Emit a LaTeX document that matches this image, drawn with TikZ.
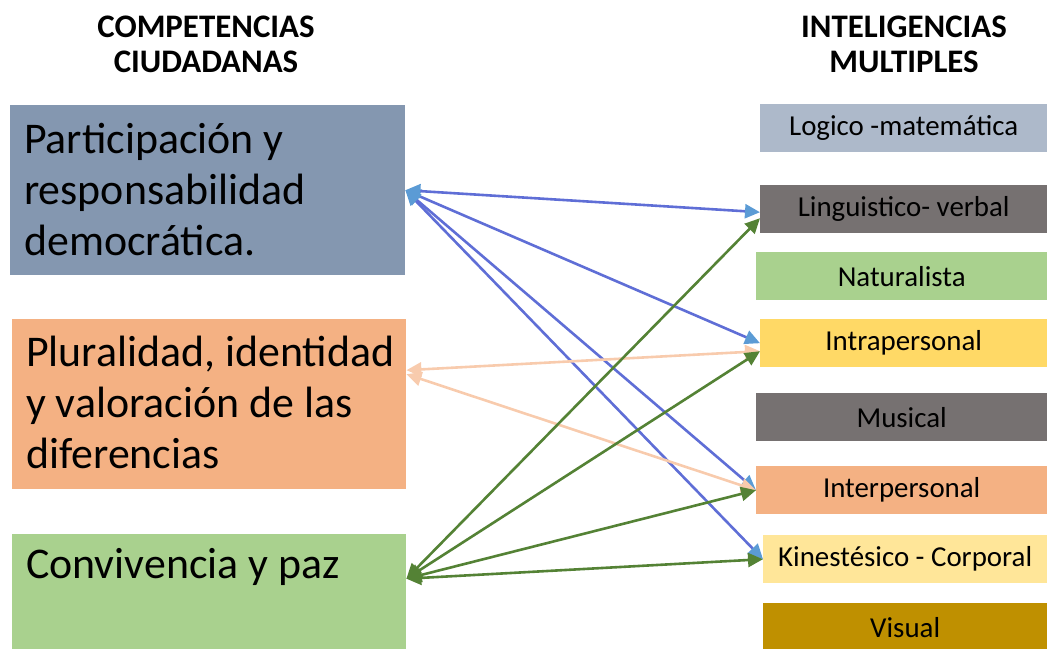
\documentclass[tikz,border=0pt]{standalone}
\usepackage{fontspec}
\setmainfont{Carlito}
\usetikzlibrary{arrows.meta}
\def\W{1049}
\def\H{649}
\def\U{bp}
\definecolor{partcolor}{HTML}{8497B0}
\definecolor{plurcolor}{HTML}{F4B183}
\definecolor{convcolor}{HTML}{A9D18E}
\definecolor{logicolor}{HTML}{ADB9CA}
\definecolor{graycolor}{HTML}{767171}
\definecolor{intracolor}{HTML}{FFD966}
\definecolor{kinecolor}{HTML}{FFE699}
\definecolor{visucolor}{HTML}{BF9000}
\definecolor{linkblue}{HTML}{5F6ED6}
\definecolor{tipblue}{HTML}{5B9BD5}
\definecolor{linkpeach}{HTML}{F8CBAD}
\definecolor{linkgreen}{HTML}{548235}
\tikzset{
  header/.style={align=center, font=\fontsize{33}{35}\selectfont\bfseries},
  leftbox/.style={anchor=north west, inner sep=0pt, minimum width=395\U, minimum height=170\U},
  lefttext/.style={anchor=base west, align=left, inner sep=0pt, font=\fontsize{44}{51}\selectfont},
  rightbox/.style={anchor=north west, inner sep=0pt, minimum height=48\U, font=\fontsize{29}{32}\selectfont},
  bluelink/.style={line width=2.6\U, linkblue,
    {Triangle[length=15\U,width=14\U,color=tipblue]}-{Triangle[length=15\U,width=14\U,color=tipblue]}},
  peachlink/.style={line width=2.6\U, linkpeach,
    {Triangle[length=15\U,width=14\U]}-{Triangle[length=15\U,width=14\U]}},
  greenlink/.style={line width=2.6\U, linkgreen,
    {Triangle[length=15\U,width=14\U]}-{Triangle[length=15\U,width=14\U]}},
}
\begin{document}
\begin{tikzpicture}[x=1\U,y=-1\U]
\useasboundingbox (0,0) rectangle (\W,\H);
% titles
\node[header] (compt) at (206,44) {COMPETENCIAS\\CIUDADANAS};
\node[header] (intet) at (904,44) {INTELIGENCIAS\\MULTIPLES};
% competencias
\node[leftbox, fill=partcolor] (part) at (10,105) {};
\node[leftbox, fill=plurcolor, minimum width=394\U] (plur) at (12,319) {};
\node[leftbox, fill=convcolor, minimum width=394\U, minimum height=115\U] (conv) at (12,534) {};
\node[lefttext] (partt) at (24,255) {Participación y\\responsabilidad\\democrática.};
\node[lefttext] (plurt) at (26,468) {Pluralidad, identidad\\y valoración de las\\diferencias};
\node[lefttext] (convt) at (26,578) {Convivencia y paz};
% inteligencias
\foreach \nm/\x/\y/\col/\txt in {
    logi/760/104/logicolor/Logico -matemática,
    ling/760/185/graycolor/Linguistico- verbal,
    natu/756/252/convcolor/Naturalista,
    intra/760/319/intracolor/Intrapersonal,
    musi/756/393/graycolor/Musical,
    inter/756/466/plurcolor/Interpersonal,
    kine/763/535/kinecolor/Kinestésico - Corporal,
    visu/763/603/visucolor/Visual}{
    \node[rightbox, fill=\col, minimum width={1047\U-\x\U}] (\nm) at (\x,\y) {\txt};
}
% relaciones
\foreach \t in {intra,inter,kine}
    \draw[bluelink] (part.east) -- (\t.west);
\draw[bluelink] (part.east) -- ([yshift=-3\U]ling.west);
\draw[peachlink] ([yshift=34\U]plur.east) -- ([yshift=-8\U]intra.west);
\draw[peachlink] ([yshift=30\U]plur.east) -- (inter.west);
\draw[greenlink] ([yshift=13\U]conv.east) -- ([yshift=-9\U]ling.west);
\draw[greenlink] ([yshift=13\U]conv.east) -- ([yshift=-8\U]intra.west);
\foreach \t in {inter,kine}
    \draw[greenlink] ([yshift=13\U]conv.east) -- (\t.west);
\end{tikzpicture}
\end{document}
